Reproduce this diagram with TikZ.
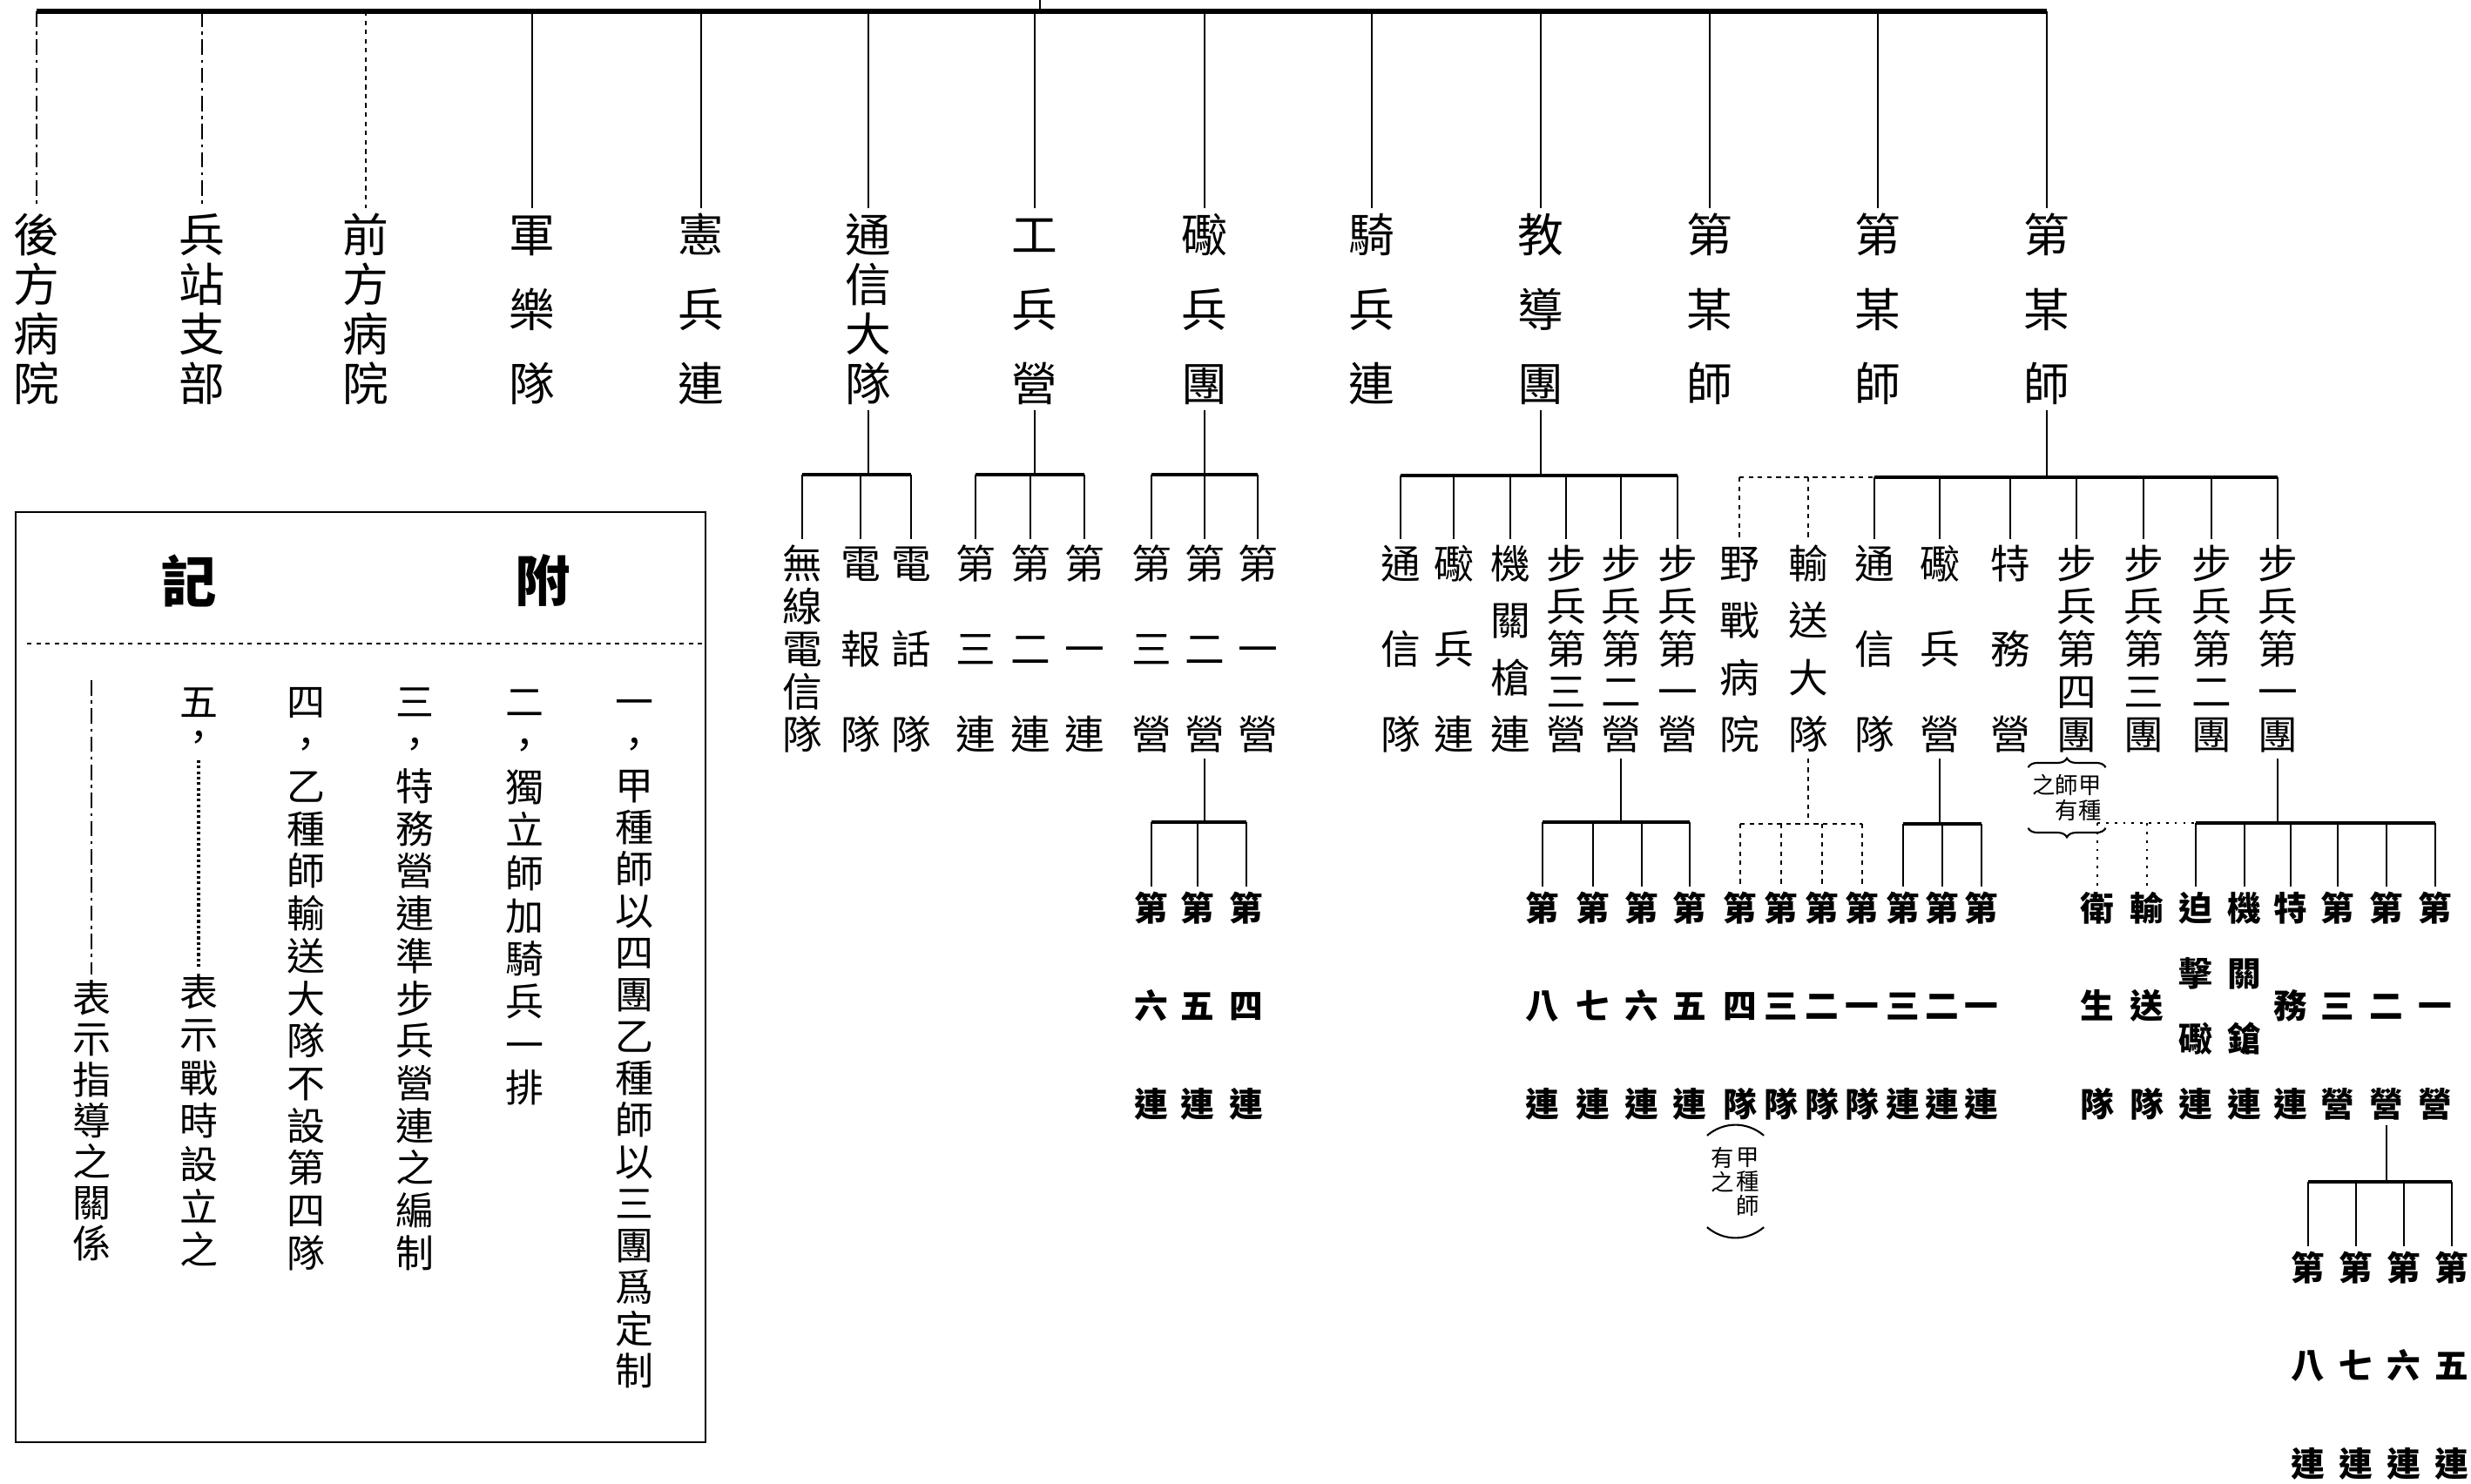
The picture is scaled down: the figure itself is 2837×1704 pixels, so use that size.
\documentclass[tikz,border=0pt]{standalone}
\usepackage{fontspec}
\setmainfont{Noto Sans CJK TC}
\usetikzlibrary{decorations.pathreplacing}

% vertical text: \vt{distance first to last character}{characters}
\newcount\vtn
\newlength\vtg
\def\vtcount#1{\ifx#1\relax\else\advance\vtn by 1 \expandafter\vtcount\fi}
\def\vtbox#1{\hbox to 1em{\hss\rule[-.12em]{0pt}{1em}#1\hss}}
\def\vtloop#1{\ifx#1\relax\else\vskip\vtg\vtbox{#1}\expandafter\vtloop\fi}
\def\vtfirst#1{\vtbox{#1}\vtloop}
\newcommand\vt[2]{\edef\vttext{#2}\vtn=-1 \expandafter\vtcount\vttext\relax
  \setlength\vtg{#1}\divide\vtg by\vtn \addtolength\vtg{-1em}%
  \vbox{\offinterlineskip\expandafter\vtfirst\vttext\relax}}

\begin{document}
\begin{tikzpicture}[x=0.01cm, y=-0.01cm, line width=0.8pt,
  every node/.style={inner sep=1pt},
  unit/.style={font=\fontsize{15}{18}\selectfont},
  subunit/.style={font=\fontsize{13}{16}\selectfont},
  company/.style={font=\fontsize{11}{13}\selectfont\bfseries},
  note/.style={font=\fontsize{12.5}{15}\selectfont},
  title/.style={font=\fontsize{18}{20}\selectfont\bfseries},
  remark/.style={font=\fontsize{7.5}{8}\selectfont},
  bar/.style={line width=1.1pt},
  mainbar/.style={line width=1.5pt},
  guide/.style={dash pattern=on 5pt off 1.6pt on 1pt off 1.6pt},
  wartime/.style={line width=0.5pt, dash pattern=on 1.5pt off 1.5pt},
  wardots/.style={line width=0.8pt, dotted},
  paren/.style={line width=0.6pt}
  ]
  \useasboundingbox (0,0) rectangle (2837,1704);

  % the units under the headquarters
  \coordinate (root) at (1194,0);
  \coordinate (top) at (0,13);
  \foreach \x/\lbl [count=\i] in {42/後方病院,232/兵站支部,420/前方病院,611/軍樂隊,805/憲兵連,997/通信大隊,1188/工兵營,1383/礮兵團,1575/騎兵連,1769/教導團,1963/第某師,2156/第某師,2350/第某師}
  \node[unit] (a\i) at (\x,355) {\vt{1.7cm}{\lbl}};

  \draw[mainbar] (a1 |- top) -- (a13 |- top);
  \draw (root) -- (root |- top);
  \foreach \i in {1,2} \draw[guide] (a\i |- top) -- (a\i);
  \draw[wartime] (a3 |- top) -- (a3);
  \foreach \i in {4,...,13} \draw (a\i |- top) -- (a\i);

  % 通信大隊
  \coordinate (b6) at (0,545);
  \foreach \x/\lbl [count=\i] in {921/無線電信隊,988/電報隊,1046/電話隊}
  \node[subunit] (a6-\i) at (\x,745) {\vt{1.96cm}{\lbl}};
  \draw (a6) -- (a6 |- b6);
  \draw[bar] (a6-1 |- b6) -- (a6-3 |- b6);
  \foreach \i in {1,2,3} \draw (a6-\i |- b6) -- (a6-\i);

  % 工兵營
  \coordinate (b7) at (0,545);
  \foreach \x/\lbl [count=\i] in {1120/第三連,1183/第二連,1245/第一連}
  \node[subunit] (a7-\i) at (\x,745) {\vt{1.96cm}{\lbl}};
  \draw (a7) -- (a7 |- b7);
  \draw[bar] (a7-1 |- b7) -- (a7-3 |- b7);
  \foreach \i in {1,2,3} \draw (a7-\i |- b7) -- (a7-\i);

  % 礮兵團
  \coordinate (b8) at (0,545);
  \foreach \x/\lbl [count=\i] in {1322/第三營,1383/第二營,1444/第一營}
  \node[subunit] (a8-\i) at (\x,745) {\vt{1.96cm}{\lbl}};
  \draw (a8) -- (a8 |- b8);
  \draw[bar] (a8-1 |- b8) -- (a8-3 |- b8);
  \foreach \i in {1,2,3} \draw (a8-\i |- b8) -- (a8-\i);

  \coordinate (b82) at (0,944);
  \foreach \x/\lbl [count=\i] in {1322/第六連,1375/第五連,1431/第四連}
  \node[company] (a8-2-\i) at (\x,1155) {\vt{2.25cm}{\lbl}};
  \draw (a8-2) -- (a8-2 |- b82);
  \draw[bar] (a8-2-1 |- b82) -- (a8-2-3 |- b82);
  \foreach \i in {1,2,3} \draw (a8-2-\i |- b82) -- (a8-2-\i);

  % 教導團
  \coordinate (b10) at (0,546);
  \foreach \x/\lbl [count=\i] in {1608/通信隊,1669/礮兵連,1734/機關槍連,1798/步兵第三營,1861/步兵第二營,1926/步兵第一營}
  \node[subunit] (a10-\i) at (\x,745) {\vt{1.96cm}{\lbl}};
  \draw (a10) -- (a10 |- b10);
  \draw[bar] (a10-1 |- b10) -- (a10-6 |- b10);
  \foreach \i in {1,...,6} \draw (a10-\i |- b10) -- (a10-\i);

  \coordinate (b105) at (0,944);
  \foreach \x/\lbl [count=\i] in {1771/第八連,1829/第七連,1885/第六連,1940/第五連}
  \node[company] (a10-5-\i) at (\x,1155) {\vt{2.25cm}{\lbl}};
  \draw (a10-5) -- (a10-5 |- b105);
  \draw[bar] (a10-5-1 |- b105) -- (a10-5-4 |- b105);
  \foreach \i in {1,...,4} \draw (a10-5-\i |- b105) -- (a10-5-\i);

  % 第某師
  \coordinate (b13) at (0,548);
  \foreach \x/\lbl [count=\i] in {1997/野戰病院,2076/輸送大隊,2152/通信隊,2227/礮兵營,2308/特務營,2384/步兵第四團,2461/步兵第三團,2539/步兵第二團,2615/步兵第一團}
  \node[subunit] (a13-\i) at (\x,745) {\vt{1.96cm}{\lbl}};
  \draw (a13) -- (a13 |- b13);
  \draw[wartime] (a13-1 |- b13) -- (a13-3 |- b13);
  \draw[bar] (a13-3 |- b13) -- (a13-9 |- b13);
  \foreach \i in {1,2} \draw[wartime] (a13-\i |- b13) -- (a13-\i);
  \foreach \i in {3,...,9} \draw (a13-\i |- b13) -- (a13-\i);

  % 輸送大隊
  \coordinate (b132) at (0,946);
  \foreach \x/\lbl [count=\i] in {1998/第四隊,2045/第三隊,2092/第二隊,2138/第一隊}
  \node[company] (a13-2-\i) at (\x,1155) {\vt{2.25cm}{\lbl}};
  \draw[wartime] (a13-2) -- (a13-2 |- b132);
  \draw[wartime] (a13-2-1 |- b132) -- (a13-2-4 |- b132);
  \foreach \i in {1,...,4} \draw[wartime] (a13-2-\i |- b132) -- (a13-2-\i);

  \node[remark] (r2a) at (2007,1356) {\vt{0.56cm}{甲種師}};
  \node[remark] (r2b) at (1978,1343) {\vt{0.28cm}{有之}};
  \draw[paren] ([yshift=2pt]r2b.north west) to[bend left=40] ([yshift=2pt]r2b.north west -| r2a.east);
  \draw[paren] ([yshift=-2pt]r2a.south west -| r2b.west) to[bend right=40] ([yshift=-2pt]r2a.south east);

  % 礮兵營
  \coordinate (b134) at (0,946);
  \foreach \x/\lbl [count=\i] in {2185/第三連,2230/第二連,2275/第一連}
  \node[company] (a13-4-\i) at (\x,1155) {\vt{2.25cm}{\lbl}};
  \draw (a13-4) -- (a13-4 |- b134);
  \draw[bar] (a13-4-1 |- b134) -- (a13-4-3 |- b134);
  \foreach \i in {1,2,3} \draw (a13-4-\i |- b134) -- (a13-4-\i);

  % 步兵第四團
  \node[remark, align=right] (r1) at (2373,916) {之師甲\\有種};
  \draw[paren, decorate, decoration={brace, amplitude=3pt}] ([yshift=1pt]r1.north west) -- ([yshift=1pt]r1.north east);
  \draw[paren, decorate, decoration={brace, amplitude=3pt}] ([yshift=-1pt]r1.south east) -- ([yshift=-1pt]r1.south west);

  % 步兵第一團
  \coordinate (b139) at (0,945);
  \foreach \x/\lbl [count=\i] in {2408/衛生隊,2465/輸送隊,2521/迫擊礮連,2577/機關鎗連,2630/特務連,2684/第三營,2740/第二營,2796/第一營}
  \node[company] (a13-9-\i) at (\x,1155) {\vt{2.25cm}{\lbl}};
  \draw (a13-9) -- (a13-9 |- b139);
  \draw[wardots] (a13-9-1 |- b139) -- (a13-9-3 |- b139);
  \draw[bar] (a13-9-3 |- b139) -- (a13-9-8 |- b139);
  \foreach \i in {1,2} \draw[wardots] (a13-9-\i |- b139) -- (a13-9-\i);
  \foreach \i in {3,...,8} \draw (a13-9-\i |- b139) -- (a13-9-\i);

  \coordinate (b1397) at (0,1357);
  \foreach \x/\lbl [count=\i] in {2650/第八連,2705/第七連,2760/第六連,2815/第五連}
  \node[company] (a13-9-7-\i) at (\x,1568) {\vt{2.25cm}{\lbl}};
  \draw (a13-9-7) -- (a13-9-7 |- b1397);
  \draw[bar] (a13-9-7-1 |- b1397) -- (a13-9-7-4 |- b1397);
  \foreach \i in {1,...,4} \draw (a13-9-7-\i |- b1397) -- (a13-9-7-\i);

  % the remarks
  \draw (18,588) rectangle (810,1656);
  \draw[wartime] (31,739) -- (806,739);
  \node[title] (h1) at (623,667) {附};
  \node[title] (h2) at (217,667) {記};
  \foreach \x/\y/\len/\lbl [count=\i] in {728/1190/7.68cm/一，甲種師以四團乙種師以三團爲定制,602/1027/4.43cm/二，獨立師加騎兵一排,476/1122/6.33cm/三，特務營連準步兵營連之編制,351/1122/6.33cm/四，乙種師輸送大隊不設第四隊}
  \node[note] (n\i) at (\x,\y) {\vt{\len}{\lbl}};
  \node[note] (n5) at (228,826) {\vt{0.4cm}{五，}};
  \node[note] (n6) at (228,1287) {\vt{2.96cm}{表示戰時設立之}};
  \draw[line width=1.2pt, dash pattern=on 0.9pt off 0.9pt] (n5) -- (n6);
  \coordinate (g7) at (105,781);
  \node[note] (n7) at (105,1287) {\vt{2.82cm}{表示指導之關係}};
  \draw[guide] (g7) -- (n7);
\end{tikzpicture}
\end{document}
